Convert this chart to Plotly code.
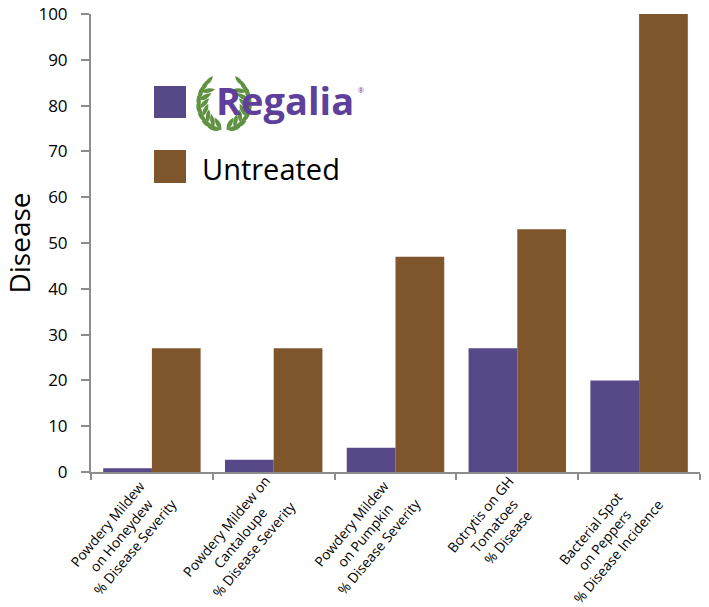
import math
import plotly.graph_objects as go

categories = [
    "Powdery Mildew<br>on Honeydew<br>% Disease Severity",
    "Powdery Mildew on<br>Cantaloupe<br>% Disease Severity",
    "Powdery Mildew<br>on Pumpkin<br>% Disease Severity",
    "Botrytis on GH<br>Tomatoes<br>% Disease",
    "Bacterial Spot<br>on Peppers<br>% Disease Incidence",
]
regalia = [0.8, 2.7, 5.3, 27, 20]
untreated = [27, 27, 47, 53, 100]
y_ticks = [0, 10, 20, 30, 40, 50, 60, 70, 80, 90, 100]

PURPLE = "#574887"
BROWN = "#7f552b"
GREEN = "#5e9140"
LOGO = "#5e3f9b"
FONT = "Open Sans"

W, H = 709, 607
ML, MR, MT, MB = 91, 9, 14, 135
PW = W - ML - MR
PH = H - MT - MB


def px(x):  # window pixel -> paper
    return (x - ML) / PW


def py(y):
    return (H - MB - y) / PH


fig = go.Figure()
fig.add_trace(go.Bar(x=categories, y=regalia, name="Regalia",
                     marker=dict(color=PURPLE, line=dict(width=0)), showlegend=False))
fig.add_trace(go.Bar(x=categories, y=untreated, name="Untreated",
                     marker=dict(color=BROWN, line=dict(width=0)), showlegend=False))

shapes = []
# legend squares
shapes.append(dict(type="rect", xref="paper", yref="paper", x0=px(154), x1=px(186), y0=py(118), y1=py(86),
                   fillcolor=PURPLE, line=dict(width=0)))
shapes.append(dict(type="rect", xref="paper", yref="paper", x0=px(154), x1=px(186), y0=py(183), y1=py(150),
                   fillcolor=BROWN, line=dict(width=0)))

# laurel wreath (decorative logo) around the "R" of Regalia
cx, cy, r = 224, 103, 25


def leaf(bx, by, ang, L=14.0, w=4.5):
    dx, dy = math.cos(ang), -math.sin(ang)
    tx, ty = bx + L * dx, by + L * dy
    mx, my = (bx + tx) / 2, (by + ty) / 2
    nx, ny = -dy, dx
    c1 = (mx + w * nx, my + w * ny)
    c2 = (mx - w * nx, my - w * ny)
    return (f"M {px(bx)},{py(by)} Q {px(c1[0])},{py(c1[1])} {px(tx)},{py(ty)} "
            f"Q {px(c2[0])},{py(c2[1])} {px(bx)},{py(by)} Z")


for side in (-1, 1):
    for phi_deg in [264, 246, 228, 210, 192, 174, 156]:
        phi = math.radians(phi_deg)
        bx = cx + side * (-r * math.cos(phi))
        by = cy - r * math.sin(phi) * 1.08
        base = math.atan2(-math.cos(phi), math.sin(phi))  # growth direction
        for off in (math.radians(-55), math.radians(-5)):
            a = base + off
            if side == 1:
                a = math.pi - a
            shapes.append(dict(type="path", xref="paper", yref="paper",
                               path=leaf(bx, by, a), fillcolor=GREEN, line=dict(width=0)))
    phi = math.radians(140)
    bx = cx + side * (-r * math.cos(phi))
    by = cy - r * math.sin(phi) * 1.08
    base = math.atan2(-math.cos(phi), math.sin(phi))
    a = base if side == -1 else math.pi - base
    shapes.append(dict(type="path", xref="paper", yref="paper",
                       path=leaf(bx, by, a, L=12.5, w=4.2), fillcolor=GREEN, line=dict(width=0)))

annotations = [
    dict(xref="paper", yref="paper", x=px(214), y=py(100), text="<b>Regalia</b>", showarrow=False,
         xanchor="left", yanchor="middle", font=dict(family=FONT, size=38, color=LOGO)),
    dict(xref="paper", yref="paper", x=px(361), y=py(90), text="®", showarrow=False,
         xanchor="center", yanchor="middle", font=dict(family=FONT, size=7, color=LOGO)),
    dict(xref="paper", yref="paper", x=px(200), y=py(168), text="Untreated", showarrow=False,
         xanchor="left", yanchor="middle", font=dict(family=FONT, size=29, color="#000000")),
]
# category labels, placed at each category on the x scale (centred lines, rotated)
for cat in categories:
    annotations.append(dict(xref="x", yref="y", x=cat, y=0, text=cat, showarrow=False,
                            textangle=-50, align="center", xanchor="right", yanchor="top",
                            xshift=31, yshift=3, font=dict(family=FONT, size=13.8, color="black")))

fig.update_layout(
    width=W, height=H,
    margin=dict(l=ML, r=MR, t=MT, b=MB, pad=0, autoexpand=False),
    paper_bgcolor="white", plot_bgcolor="white",
    barmode="group", bargap=0.2, bargroupgap=0,
    font=dict(family=FONT, color="black"),
    shapes=shapes, annotations=annotations,
    showlegend=False,
)
fig.update_xaxes(
    type="category", tickson="boundaries", ticks="outside", ticklen=6, tickwidth=2, tickcolor="#8c8c8c",
    showline=True, linecolor="#8c8c8c", linewidth=2, showticklabels=False,
    showgrid=False, range=[-0.5, 4.5], automargin=False,
)
fig.update_yaxes(
    range=[0, 100], tickvals=y_ticks, ticks="outside", ticklen=8, tickwidth=2, tickcolor="#8c8c8c",
    showline=True, linecolor="#8c8c8c", linewidth=2, showgrid=False, zeroline=False,
    tickfont=dict(size=17, family=FONT), ticklabelstandoff=10, automargin=False,
    ticklabeloverflow="allow",
    title=dict(text="Disease", font=dict(size=28, family=FONT), standoff=6),
)

fig.write_html(
    "out.html",
    config={"displayModeBar": False},
    post_script="document.body.style.margin='0';document.body.style.overflow='hidden';",
)
